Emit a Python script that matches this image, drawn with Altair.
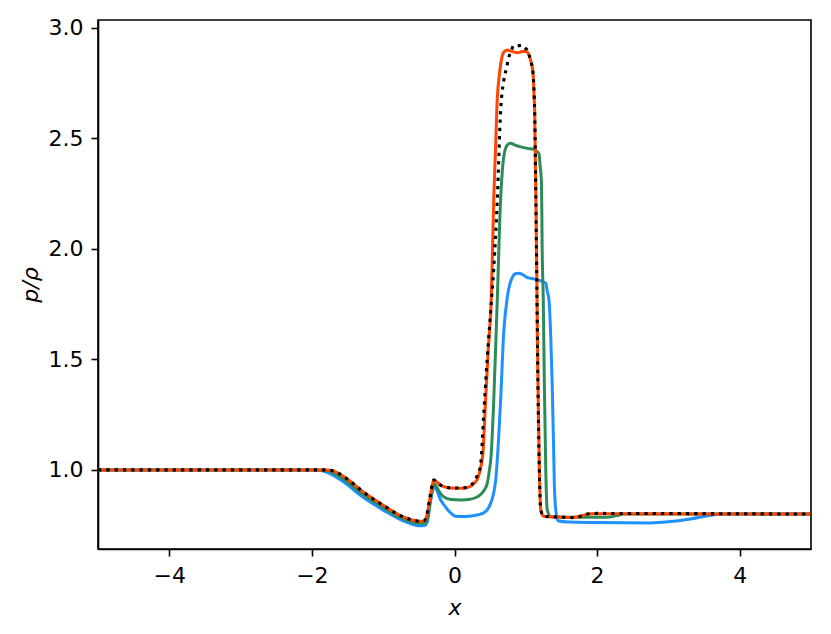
import altair as alt
import pandas as pd

# ---- data ----
blue_x = [-5, -2.0, -1.9, -1.8, -1.7, -1.6, -1.5, -1.4, -1.3, -1.2, -1.1, -1.0, -0.9, -0.8, -0.7, -0.6, -0.5,
          -0.42, -0.38, -0.34, -0.3, -0.28, -0.24, -0.197, -0.12, -0.056, 0.014, 0.1, 0.2, 0.3, 0.365, 0.43,
          0.48, 0.52, 0.55, 0.58, 0.6, 0.646, 0.69, 0.74, 0.78, 0.81, 0.85, 0.9, 0.95, 1.02, 1.09, 1.16, 1.21,
          1.28, 1.3, 1.325, 1.35, 1.37, 1.39, 1.4, 1.42, 1.45, 1.6, 2.0, 2.75, 3.0, 3.31, 3.55, 3.78, 5]
blue_y = [1.0, 1.0, 0.998, 0.99, 0.975, 0.955, 0.932, 0.905, 0.88, 0.858, 0.838, 0.818, 0.8, 0.782, 0.767,
          0.755, 0.747, 0.748, 0.765, 0.85, 0.915, 0.927, 0.9, 0.866, 0.83, 0.806, 0.79, 0.789, 0.79, 0.795,
          0.8, 0.81, 0.83, 0.86, 0.896, 0.96, 1.045, 1.31, 1.62, 1.78, 1.845, 1.87, 1.888, 1.89, 1.885, 1.87,
          1.866, 1.86, 1.855, 1.845, 1.81, 1.77, 1.6, 1.39, 1.1, 0.94, 0.82, 0.77, 0.764, 0.762, 0.76, 0.765,
          0.778, 0.792, 0.8, 0.8]

green_x = [-5, -1.9, -1.8, -1.7, -1.6, -1.5, -1.4, -1.3, -1.2, -1.1, -1.0, -0.9, -0.8, -0.7, -0.6, -0.5,
           -0.42, -0.38, -0.34, -0.3, -0.28, -0.22, -0.15, -0.05, 0.1, 0.2, 0.3, 0.365, 0.42, 0.46, 0.49, 0.51,
           0.55, 0.6, 0.646, 0.67, 0.69, 0.74, 0.787, 0.85, 0.93, 1.02, 1.115, 1.16, 1.185, 1.2, 1.22, 1.23,
           1.245, 1.26, 1.28, 1.3, 1.35, 1.6, 2.15, 2.3, 2.37, 5]
green_y = [1.0, 1.0, 0.997, 0.987, 0.968, 0.945, 0.918, 0.893, 0.87, 0.85, 0.83, 0.81, 0.79, 0.776, 0.765,
           0.758, 0.758, 0.78, 0.86, 0.925, 0.935, 0.905, 0.878, 0.866, 0.864, 0.866, 0.875, 0.888, 0.91, 0.94,
           1.0, 1.05, 1.31, 1.77, 2.22, 2.35, 2.415, 2.47, 2.478, 2.47, 2.462, 2.455, 2.45, 2.44, 2.43, 2.38,
           2.3, 1.99, 1.77, 1.39, 1.0, 0.82, 0.788, 0.786, 0.786, 0.795, 0.8, 0.8]

orange_x = [-5, -1.8, -1.7, -1.6, -1.5, -1.4, -1.3, -1.2, -1.1, -1.0, -0.9, -0.8, -0.7, -0.6, -0.5, -0.43,
            -0.39, -0.35, -0.31, -0.29, -0.25, -0.2, -0.1, 0.0, 0.1, 0.2, 0.28, 0.33, 0.37, 0.4, 0.435, 0.475,
            0.515, 0.55, 0.575, 0.6, 0.63, 0.66, 0.69, 0.74, 0.79, 0.88, 0.95, 1.0, 1.04, 1.07, 1.1, 1.115,
            1.124, 1.15, 1.17, 1.19, 1.21, 1.25, 1.5, 1.67, 1.8, 1.91, 2.2, 5]
orange_y = [1.0, 1.0, 0.995, 0.979, 0.958, 0.932, 0.905, 0.882, 0.861, 0.84, 0.82, 0.8, 0.785, 0.774, 0.768,
            0.768, 0.79, 0.86, 0.935, 0.953, 0.945, 0.933, 0.92, 0.917, 0.917, 0.922, 0.94, 0.965, 1.015, 1.08,
            1.31, 1.55, 1.77, 2.22, 2.45, 2.68, 2.79, 2.86, 2.89, 2.9, 2.895, 2.888, 2.893, 2.895, 2.88, 2.85,
            2.8, 2.7, 2.63, 1.99, 1.4, 1.0, 0.82, 0.79, 0.786, 0.785, 0.794, 0.802, 0.801, 0.8]

black_x = [-5, -1.8, -1.7, -1.6, -1.5, -1.4, -1.3, -1.2, -1.1, -1.0, -0.9, -0.8, -0.7, -0.6, -0.5, -0.43,
           -0.39, -0.35, -0.31, -0.29, -0.25, -0.2, -0.1, 0.0, 0.1, 0.2, 0.27, 0.32, 0.365, 0.41, 0.46, 0.51,
           0.55, 0.6, 0.646, 0.69, 0.73, 0.76, 0.8, 0.83, 0.9, 0.95, 0.99, 1.02, 1.07, 1.1, 1.115, 1.124, 1.15,
           1.17, 1.19, 1.21, 1.25, 1.5, 1.7, 1.85, 2.0, 5]
black_y = [1.0, 1.0, 0.995, 0.98, 0.958, 0.933, 0.906, 0.882, 0.86, 0.84, 0.82, 0.8, 0.785, 0.774, 0.768,
           0.77, 0.795, 0.865, 0.935, 0.955, 0.945, 0.932, 0.92, 0.918, 0.918, 0.925, 0.945, 0.975, 1.02, 1.25,
           1.51, 1.73, 1.91, 2.22, 2.62, 2.76, 2.82, 2.865, 2.9, 2.92, 2.92, 2.922, 2.91, 2.9, 2.85, 2.8, 2.72,
           2.63, 1.99, 1.4, 1.0, 0.82, 0.79, 0.786, 0.784, 0.8, 0.803, 0.8]

x_ticks = [-4, -2, 0, 2, 4]
y_ticks = [1.0, 1.5, 2.0, 2.5, 3.0]

series = [("blue", blue_x, blue_y, "#1E90FF"),
          ("green", green_x, green_y, "#2E8B57"),
          ("orange", orange_x, orange_y, "#FF4500")]

xs = alt.Scale(domain=[-5, 5], nice=False, zero=False)
ys = alt.Scale(domain=[0.642, 3.036], nice=False, zero=False)

xaxis = alt.Axis(values=x_ticks, title="x", format="d", labelPadding=9,
                 titleY=58, titleBaseline="middle")
yaxis = alt.Axis(values=y_ticks, title="p/ρ", format=".1f", labelPadding=8,
                 titleX=-68, titleBaseline="middle", titleAlign="center")

layers = []
for name, xv, yv, col in series:
    df = pd.DataFrame({"x": xv, "y": yv, "order": range(len(xv))})
    layers.append(
        alt.Chart(df).mark_line(color=col, strokeWidth=3, interpolate="monotone", clip=True).encode(
            x=alt.X("x:Q", scale=xs, axis=xaxis),
            y=alt.Y("y:Q", scale=ys, axis=yaxis),
            order="order:Q",
        )
    )

dfb = pd.DataFrame({"x": black_x, "y": black_y, "order": range(len(black_x))})
layers.append(
    alt.Chart(dfb).mark_line(color="black", strokeWidth=3.1, strokeDash=[3.3, 5], strokeCap="butt",
                             interpolate="monotone", clip=True).encode(
        x=alt.X("x:Q", scale=xs, axis=xaxis),
        y=alt.Y("y:Q", scale=ys, axis=yaxis),
        order="order:Q",
    )
)

chart = alt.layer(*layers).properties(
    width=713, height=529,
    autosize=alt.AutoSizeParams(type="none"),
    padding={"left": 90, "top": 12, "right": 10, "bottom": 70},
).configure_view(
    stroke="black", strokeWidth=1.6
).configure_axis(
    grid=False,
    domainColor="black", domainWidth=1.6,
    tickColor="black", tickWidth=1.6, tickSize=7,
    labelFont="DejaVu Sans", labelFontSize=22, labelColor="black",
    titleFont="DejaVu Sans", titleFontSize=22, titleFontStyle="italic", titleFontWeight="normal",
    titleColor="black",
)

chart.save("out.html", embed_options={"renderer": "svg", "actions": False})
